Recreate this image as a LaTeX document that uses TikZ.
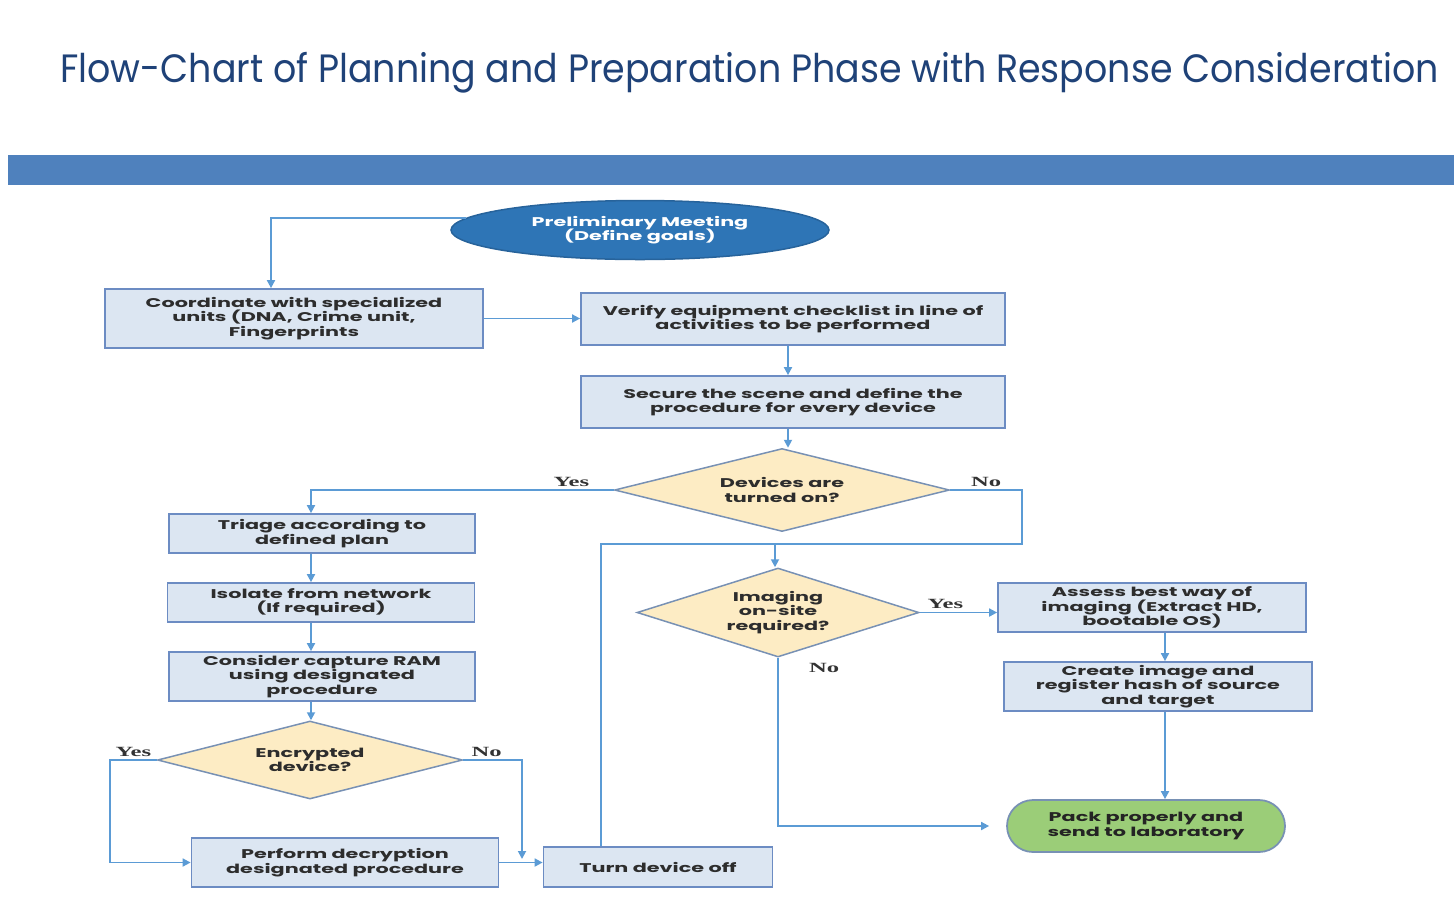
\documentclass[tikz,border=0pt]{standalone}
\usepackage{fontspec}
\usetikzlibrary{shapes.geometric,arrows.meta}
\newfontfamily\boxfont{Poppins}[FakeStretch=1.64]
\newfontfamily\ttlfont{Poppins}[FakeStretch=0.92]
\newfontfamily\yesnofont{Liberation Serif}[FakeStretch=1.75]
\newcommand\boxtextfont{\boxfont\bfseries\fontsize{7.2}{8.2}\selectfont\lineskiplimit=-5pt\lineskip=0pt}
\definecolor{barblue}{RGB}{79,129,189}
\definecolor{ttlblue}{RGB}{31,66,120}
\definecolor{boxfill}{RGB}{220,230,242}
\definecolor{boxline}{RGB}{108,140,195}
\definecolor{boxtext}{RGB}{45,45,45}
\definecolor{flow}{RGB}{91,155,213}
\definecolor{decfill}{RGB}{253,236,196}
\definecolor{decline}{RGB}{120,145,180}
\definecolor{startfill}{RGB}{46,117,182}
\definecolor{endfill}{RGB}{155,205,120}
\begin{document}
\begin{tikzpicture}[x=0.2mm, y=-0.2mm,
    box/.style={rectangle, draw=boxline, fill=boxfill, line width=0.35mm, text=boxtext,
      font=\boxtextfont, align=center, inner sep=0pt},
    dec/.style={diamond, draw=decline, fill=decfill, line width=0.3mm, text=boxtext,
      font=\boxtextfont, align=center, inner sep=0pt},
    startnode/.style={ellipse, draw=startfill!85!black, fill=startfill, line width=0.3mm, text=white,
      font=\boxtextfont, align=center, inner sep=0pt},
    endnode/.style={rectangle, rounded corners=5.2mm, draw=decline, fill=endfill, line width=0.35mm, text=boxtext!80!black,
      font=\boxtextfont, align=center, inner sep=0pt},
    lbl/.style={font={\yesnofont\bfseries\fontsize{8}{8}\selectfont}, text=black!80, inner sep=1.5pt},
    flowline/.style={draw=flow, line width=0.35mm},
    arr/.style={flowline, -{Triangle[length=1.6mm, width=1.6mm]}}]
  \useasboundingbox (0,0) rectangle (1454,897);

  % Titel und Balken
  \node[anchor=base west, text=ttlblue, font={\ttlfont\fontsize{22.5}{24}\selectfont}, inner sep=0pt] (title) at (60,82)
    {Flow-Chart of Planning and Preparation Phase with Response Consideration};
  \fill[barblue] (8,155) rectangle (1454,185);

  % Knoten
  \node[startnode, minimum width=75.6mm, minimum height=11.8mm] (prelim) at (640,230) {Preliminary Meeting\\(Define goals)};
  \node[box, minimum width=75.6mm, minimum height=11.8mm] (coord) at (294,318.5) {Coordinate with specialized\\units (DNA, Crime unit,\\Fingerprints};
  \node[box, minimum width=84.8mm, minimum height=10.4mm] (verify) at (793,319) {Verify equipment checklist in line of\\activities to be performed};
  \node[box, minimum width=84.8mm, minimum height=10.4mm] (secure) at (793,402) {Secure the scene and define the\\procedure for every device};
  \node[dec, aspect=4, minimum width=67mm, minimum height=16.6mm] (dev) at (782,490) {Devices are\\turned on?};
  \node[box, minimum width=61.2mm, minimum height=7.8mm] (triage) at (322,533.5) {Triage according to\\defined plan};
  \node[box, minimum width=61.4mm, minimum height=7.8mm] (isolate) at (321,602.5) {Isolate from network\\(If required)};
  \node[box, minimum width=61.2mm, minimum height=9.8mm] (consider) at (322,676.5) {Consider capture RAM\\using designated\\procedure};
  \node[dec, aspect=3.9, minimum width=61mm, minimum height=15.6mm] (enc) at (310,760) {Encrypted\\device?};
  \node[box, minimum width=61.4mm, minimum height=9.8mm] (decrypt) at (345,862.5) {Perform decryption\\designated procedure};
  \node[box, minimum width=45.8mm, minimum height=8mm] (off) at (658,867) {Turn device off};
  \node[dec, aspect=3.2, minimum width=56.4mm, minimum height=17.8mm] (img) at (778,612.5) {Imaging\\on-site\\required?};
  \node[box, minimum width=61.6mm, minimum height=9.8mm] (assess) at (1152,607.5) {Assess best way of\\imaging (Extract HD,\\bootable OS)};
  \node[box, minimum width=61.6mm, minimum height=9.8mm] (create) at (1158,686.5) {Create image and\\register hash of source\\and target};
  \node[endnode, minimum width=55.6mm, minimum height=10.4mm] (pack) at (1146,826) {Pack properly and\\send to laboratory};

  % Hilfspunkte
  \coordinate (lx) at (271,0);
  \coordinate (mc) at (788,0);
  \coordinate (lc) at (311,0);
  \coordinate (rc) at (1165,0);
  \coordinate (ox) at (601,0);
  \coordinate (elx) at (110,0);
  \coordinate (jn) at (775,544);
  \coordinate (nx) at (1022,544);
  \coordinate (enx) at (522,859);

  % Verbindungen
  \draw[arr] (prelim.176) -| (coord.north -| lx);
  \draw[arr] (coord.east) -- (verify.west |- coord.east);
  \draw[arr] (verify.south -| mc) -- (secure.north -| mc);
  \draw[arr] (secure.south -| mc) -- (dev.north -| mc);
  \draw[arr] (dev.west) -| node[lbl, pos=0.07, above] (yes1) {Yes} (triage.north -| lc);
  \draw[flowline] (dev.east) -| node[lbl, pos=0.25, above] (no1) {No} (nx) -- (jn);
  \draw[flowline] (off.north -| ox) |- (jn);
  \draw[arr] (jn) -- (img.north -| jn);
  \draw[arr] (triage.south -| lc) -- (isolate.north -| lc);
  \draw[arr] (isolate.south -| lc) -- (consider.north -| lc);
  \draw[arr] (consider.south -| lc) -- (enc.north -| lc);
  \draw[arr] (enc.west) -- node[lbl, above] (yes2) {Yes} (enc.west -| elx) |- (decrypt.west);
  \draw[arr] (enc.east) -| node[lbl, pos=0.2, above] (no2) {No} (enx);
  \draw[arr] (decrypt.east) -- (off.west |- decrypt.east);
  \draw[arr] (img.east) -- node[lbl, pos=0.33, above] (yes3) {Yes} (assess.west |- img.east);
  \draw[arr, shorten >=3.4mm] (img.south) |- node[lbl, pos=0.03, right=5.5mm] (no3) {No} (pack.west);
  \draw[arr] (assess.south -| rc) -- (create.north -| rc);
  \draw[arr] (create.south -| rc) -- (pack.north -| rc);
\end{tikzpicture}
\end{document}
